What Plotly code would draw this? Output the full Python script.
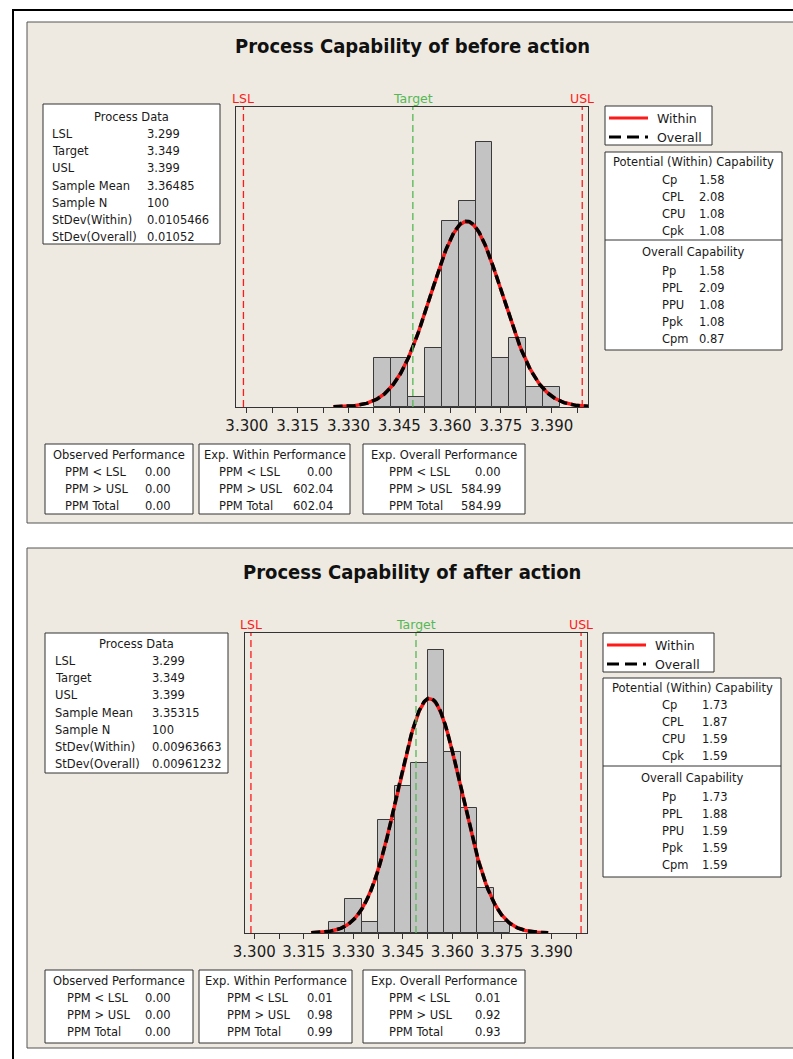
import numpy as np
import plotly.graph_objects as go

W, H = 793, 1059

# ---------------- data ----------------
LSL, TARGET, USL = 3.299, 3.349, 3.399
BIN_W = 0.005

before_centers = [3.340, 3.345, 3.350, 3.355, 3.360, 3.365, 3.370, 3.375, 3.380, 3.385, 3.390]
before_counts = [5, 5, 1, 6, 19, 21, 27, 5, 7, 2, 2]
before_mean, before_n = 3.36485, 100
before_sd_within, before_sd_overall = 0.0105466, 0.01052

after_centers = [3.325, 3.330, 3.335, 3.340, 3.345, 3.350, 3.355, 3.360, 3.365, 3.370, 3.375]
after_counts = [1, 3, 1, 10, 13, 15, 25, 16, 11, 4, 1]
after_mean, after_n = 3.35315, 100
after_sd_within, after_sd_overall = 0.00963663, 0.00961232

tick_vals = [3.300, 3.315, 3.330, 3.345, 3.360, 3.375, 3.390]
tick_text = ["3.300", "3.315", "3.330", "3.345", "3.360", "3.375", "3.390"]

before_process = [("LSL", "3.299"), ("Target", "3.349"), ("USL", "3.399"),
                  ("Sample Mean", "3.36485"), ("Sample N", "100"),
                  ("StDev(Within)", "0.0105466"), ("StDev(Overall)", "0.01052")]
after_process = [("LSL", "3.299"), ("Target", "3.349"), ("USL", "3.399"),
                 ("Sample Mean", "3.35315"), ("Sample N", "100"),
                 ("StDev(Within)", "0.00963663"), ("StDev(Overall)", "0.00961232")]

before_within_cap = [("Cp", "1.58"), ("CPL", "2.08"), ("CPU", "1.08"), ("Cpk", "1.08")]
before_overall_cap = [("Pp", "1.58"), ("PPL", "2.09"), ("PPU", "1.08"), ("Ppk", "1.08"), ("Cpm", "0.87")]
after_within_cap = [("Cp", "1.73"), ("CPL", "1.87"), ("CPU", "1.59"), ("Cpk", "1.59")]
after_overall_cap = [("Pp", "1.73"), ("PPL", "1.88"), ("PPU", "1.59"), ("Ppk", "1.59"), ("Cpm", "1.59")]

perf_labels = ["PPM < LSL", "PPM > USL", "PPM Total"]
before_observed = ["0.00", "0.00", "0.00"]
before_exp_within = ["0.00", "602.04", "602.04"]
before_exp_overall = ["0.00", "584.99", "584.99"]
after_observed = ["0.00", "0.00", "0.00"]
after_exp_within = ["0.01", "0.98", "0.99"]
after_exp_overall = ["0.01", "0.92", "0.93"]

# ---------------- helpers ----------------
def px(x):
    return x / W


def py(y):
    return 1 - y / H


FONT = "DejaVu Sans"
TXT = "#1a1a1a"
BEIGE = "#EEEAE1"
FS = 11.5

fig = go.Figure()
shapes = []
annotations = []


def rect(x0, y0, x1, y1, fill="white", line="#333333", lw=1, layer="above"):
    shapes.append(dict(type="rect", xref="paper", yref="paper",
                       x0=px(x0), x1=px(x1), y0=py(y1), y1=py(y0),
                       fillcolor=fill, line=dict(color=line, width=lw), layer=layer))


def hline(x0, x1, y, color="#333333", lw=1, dash="solid"):
    shapes.append(dict(type="line", xref="paper", yref="paper",
                       x0=px(x0), x1=px(x1), y0=py(y), y1=py(y),
                       line=dict(color=color, width=lw, dash=dash), layer="above"))


def text(x, y, s, anchor="left", size=FS, color=TXT, family=FONT, bold=False):
    if bold:
        s = "<b>" + s + "</b>"
    annotations.append(dict(xref="paper", yref="paper", x=px(x), y=py(y), text=s,
                            showarrow=False, xanchor=anchor, yanchor="middle",
                            font=dict(size=size, color=color, family=family)))


def normal_curve(mean, sd, n):
    xs = np.linspace(mean - 3.73 * sd, mean + 3.73 * sd, 300)
    ys = n * BIN_W * np.exp(-0.5 * ((xs - mean) / sd) ** 2) / (sd * np.sqrt(2 * np.pi))
    return xs, ys


# ---------------- background frames ----------------
shapes.append(dict(type="rect", xref="paper", yref="paper", x0=px(13), x1=px(820),
                   y0=py(1080), y1=py(10), fillcolor="white",
                   line=dict(color="black", width=2), layer="below"))
rect(27, 22, 820, 523, fill=BEIGE, line="#555555", layer="below")
rect(27, 548, 820, 1048, fill=BEIGE, line="#555555", layer="below")


def panel(suffix, centers, counts, mean, n, sdw, sdo, title, title_y,
          frame, yrange, xrange_, proc, pbox, prow0, plab_x, pval_x,
          legbox, capbox, cap_div, cap_rows_w, cap_rows_o, wcap, ocap, cap_lab_x, cap_val_x,
          perf_y, perf_rows, perf_boxes, perf_data, spec_label_y):
    xa = "x" + suffix
    ya = "y" + suffix
    fig.add_trace(go.Bar(x=centers, y=counts, width=BIN_W,
                         marker=dict(color="#C3C3C3", line=dict(color="#3a3a3a", width=1)),
                         xaxis=xa, yaxis=ya, showlegend=False, name="Data"))
    cx, cy = normal_curve(mean, sdw, n)
    fig.add_trace(go.Scatter(x=cx, y=cy, mode="lines", line=dict(color="#FF1A1A", width=3.5),
                             xaxis=xa, yaxis=ya, showlegend=False, name="Within"))
    ox, oy = normal_curve(mean, sdo, n)
    fig.add_trace(go.Scatter(x=ox, y=oy, mode="lines",
                             line=dict(color="black", width=3.5, dash="9px,4px"),
                             xaxis=xa, yaxis=ya, showlegend=False, name="Overall"))

    # spec lines
    for val, col, lab in [(LSL, "#FF1A1A", "LSL"), (TARGET, "#55B855", "Target"), (USL, "#FF1A1A", "USL")]:
        shapes.append(dict(type="line", xref=xa, yref=ya + " domain", x0=val, x1=val, y0=0, y1=1,
                           line=dict(color=col, width=1.3, dash="7px,4px"), layer="above"))
        annotations.append(dict(xref=xa, yref="paper", x=val, y=py(spec_label_y), text=lab,
                                showarrow=False, xanchor="center", yanchor="middle",
                                font=dict(size=12.5, color=col, family=FONT)))

    # title
    text(412, title_y, title, anchor="center", size=20, family="DejaVu Sans Condensed", bold=True,
         color="#111111")

    # process data box
    rect(*pbox)
    text((pbox[0] + pbox[2]) / 2, prow0 - 17, "Process Data", anchor="center")
    for i, (lab, val) in enumerate(proc):
        yy = prow0 + i * 17.2
        text(plab_x, yy, lab)
        text(pval_x, yy, val)

    # legend box
    lx0, ly0, lx1, ly1 = legbox
    rect(lx0, ly0, lx1, ly1)
    r1 = ly0 + 12
    r2 = ly0 + 31
    hline(lx0 + 4, lx0 + 43, r1, color="#FF1A1A", lw=3)
    hline(lx0 + 4, lx0 + 43, r2, color="black", lw=3, dash="12px,6px")
    text(lx0 + 50, r1, "Within", size=12.5)
    text(lx0 + 50, r2, "Overall", size=12.5)

    # capability box
    rect(*capbox)
    hline(capbox[0], capbox[2], cap_div, color="#333333", lw=1)
    cmid = (capbox[0] + capbox[2]) / 2
    text(cmid, capbox[1] + 10, "Potential (Within) Capability", anchor="center")
    for (lab, val), yy in zip(wcap, cap_rows_w):
        text(cap_lab_x, yy, lab)
        text(cap_val_x, yy, val)
    text(cmid, cap_div + 12, "Overall Capability", anchor="center")
    for (lab, val), yy in zip(ocap, cap_rows_o):
        text(cap_lab_x, yy, lab)
        text(cap_val_x, yy, val)

    # performance boxes
    titles = ["Observed Performance", "Exp. Within Performance", "Exp. Overall Performance"]
    for (bx0, bx1, labx, valx, vanchor), t, vals in zip(perf_boxes, titles, perf_data):
        rect(bx0, perf_y[0], bx1, perf_y[1])
        text((bx0 + bx1) / 2, perf_y[0] + 11, t, anchor="center")
        for lab, v, yy in zip(perf_labels, vals, perf_rows):
            text(labx, yy, lab)
            text(valx, yy, v, anchor=vanchor)

    # axes
    fx0, fy0, fx1, fy1 = frame
    axis_common = dict(showline=True, mirror=True, linecolor="#333333", linewidth=1,
                       showgrid=False, zeroline=False, automargin=False)
    fig.update_layout(**{
        "xaxis" + suffix: dict(
            domain=[px(fx0), px(fx1)], range=xrange_, anchor=ya,
            tickmode="array", tickvals=tick_vals, ticktext=tick_text,
            ticks="outside", ticklen=5, tickcolor="#333333",
            tickfont=dict(size=15, family=FONT, color=TXT),
            minor=dict(ticks="outside", tickmode="linear", tick0=3.3, dtick=0.0075,
                       ticklen=5, tickcolor="#333333"),
            **axis_common),
        "yaxis" + suffix: dict(
            domain=[py(fy1), py(fy0)], range=yrange, anchor=xa,
            showticklabels=False, ticks="", **axis_common),
    })


panel("", before_centers, before_counts, before_mean, before_n, before_sd_within, before_sd_overall,
      "Process Capability of before action", 46,
      frame=(236, 107, 588, 407), yrange=[0, 30.6], xrange_=[3.2968, 3.4007],
      proc=before_process, pbox=(43, 104, 220, 244), prow0=134, plab_x=50, pval_x=145,
      legbox=(605, 106, 712, 145), capbox=(605, 152, 782, 350), cap_div=240,
      cap_rows_w=[180, 197, 214, 231], cap_rows_o=[271, 288, 305, 322, 339],
      wcap=before_within_cap, ocap=before_overall_cap, cap_lab_x=660, cap_val_x=697,
      perf_y=(444, 514), perf_rows=[472, 489, 506],
      perf_boxes=[(45, 193, 63, 143, "left"), (199, 350, 217, 335, "right"),
                  (363, 525, 387, 503, "right")],
      perf_data=[before_observed, before_exp_within, before_exp_overall],
      spec_label_y=98)

panel("2", after_centers, after_counts, after_mean, after_n, after_sd_within, after_sd_overall,
      "Process Capability of after action", 572,
      frame=(245, 633, 587, 933), yrange=[0, 26.5], xrange_=[3.2972, 3.4008],
      proc=after_process, pbox=(45, 633, 228, 773), prow0=661, plab_x=53, pval_x=150,
      legbox=(603, 633, 714, 672), capbox=(603, 678, 781, 877), cap_div=766,
      cap_rows_w=[705, 722, 739, 756], cap_rows_o=[797, 814, 831, 848, 865],
      wcap=after_within_cap, ocap=after_overall_cap, cap_lab_x=660, cap_val_x=700,
      perf_y=(970, 1043), perf_rows=[998, 1015, 1032],
      perf_boxes=[(45, 193, 65, 143, "left"), (199, 352, 225, 305, "left"),
                  (363, 525, 387, 473, "left")],
      perf_data=[after_observed, after_exp_within, after_exp_overall],
      spec_label_y=624)

fig.update_layout(template="none", width=W, height=H,
                  margin=dict(l=0, r=0, t=0, b=0, pad=0, autoexpand=False),
                  paper_bgcolor="white", plot_bgcolor="white", bargap=0,
                  shapes=shapes, annotations=annotations, showlegend=False)

fig.write_html("out.html", config={"responsive": False, "displayModeBar": False},
               post_script="document.body.style.margin='0';document.body.style.overflow='hidden';")
